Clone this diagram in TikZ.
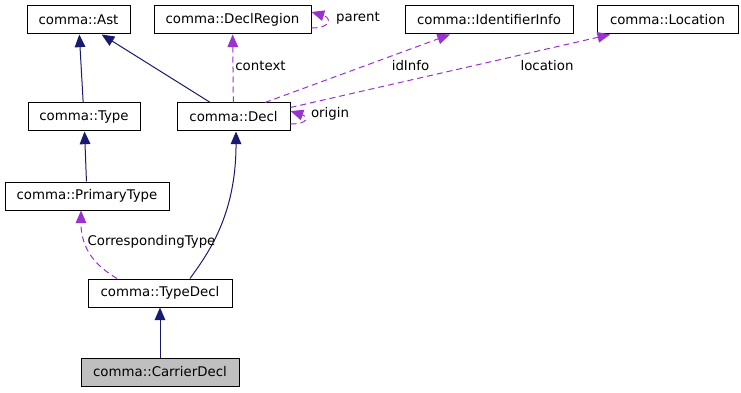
\documentclass[tikz,border=0pt]{standalone}
\usepackage{fontspec}
\setmainfont{DejaVu Sans}
\usetikzlibrary{arrows.meta, positioning, calc}
\definecolor{inhblue}{RGB}{25,25,112}
\definecolor{usepurple}{RGB}{154,50,205}
\definecolor{focusgray}{RGB}{191,191,191}

\begin{document}
\begin{tikzpicture}[x=0.75pt, y=-0.75pt, font=\fontsize{10}{12}\selectfont,
  cls/.style={draw, rectangle, line width=0.75pt, minimum height=21pt, inner sep=0pt, minimum width=#1*0.75pt},
  inh/.style={-{Triangle[length=9.5pt, width=8pt]}, inhblue, line width=0.75pt},
  uses/.style={-{Triangle[length=9.5pt, width=8pt]}, usepurple, line width=0.75pt, dash pattern=on 4.5pt off 3pt},
  lbl/.style={inner sep=0pt}]
  \useasboundingbox (0,0) rectangle (741,392);

  % classes
  \node[cls=103] (ast) at (78.5,20) {comma::Ast};
  \node[cls=157] (declregion) at (232.5,20) {comma::DeclRegion};
  \node[cls=168] (identinfo) at (489,20) {comma::IdentifierInfo};
  \node[cls=141] (location) at (667.5,20) {comma::Location};
  \node[cls=112] (type) at (84,117) {comma::Type};
  \node[cls=113] (decl) at (233.5,117) {comma::Decl};
  \node[cls=164] (primarytype) at (87,196) {comma::PrimaryType};
  \node[cls=144] (typedecl) at (160,293) {comma::TypeDecl};
  \node[cls=158, fill=focusgray] (carrierdecl) at (160,372) {comma::CarrierDecl};

  % inheritance
  \draw[inh] (type) -- (ast);
  \draw[inh] (decl) -- (ast);
  \draw[inh] (primarytype) -- (type);
  \draw[inh] (carrierdecl) -- (typedecl);
  \draw[inh] ([xshift=22.5pt]typedecl.north) .. controls +(18,-25) and +(0,84) .. ([xshift=1.9pt]decl.south);

  % usage
  \draw[uses] ([xshift=-32.25pt]typedecl.north) .. controls +(-20,-12) and +(0,40) .. ([xshift=-4.5pt]primarytype.south);
  \node[lbl] (corrlbl) at (151.5,242) {CorrespondingType};
  \draw[uses] (decl) -- (declregion);
  \node[lbl] (ctxlbl) at (260.5,66) {context};
  \draw[uses] ([xshift=23.6pt]decl.north) -- ([xshift=-29.25pt]identinfo.south);
  \node[lbl] (idlbl) at (410.5,66) {idInfo};
  \draw[uses] ([yshift=-3.75pt]decl.north east) -- ([xshift=-43pt]location.south);
  \node[lbl] (loclbl) at (547,66) {location};
  \draw[uses] ([yshift=-6pt]declregion.east) .. controls +(20,0) and +(20,6) .. ([yshift=6pt]declregion.east);
  \node[lbl] (parentlbl) at (358,18) {parent};
  \draw[uses] ([yshift=-5.25pt]decl.east) .. controls +(18,0) and +(18,6) .. ([yshift=4.5pt]decl.east);
  \node[lbl] (originlbl) at (330,114) {origin};
\end{tikzpicture}
\end{document}
